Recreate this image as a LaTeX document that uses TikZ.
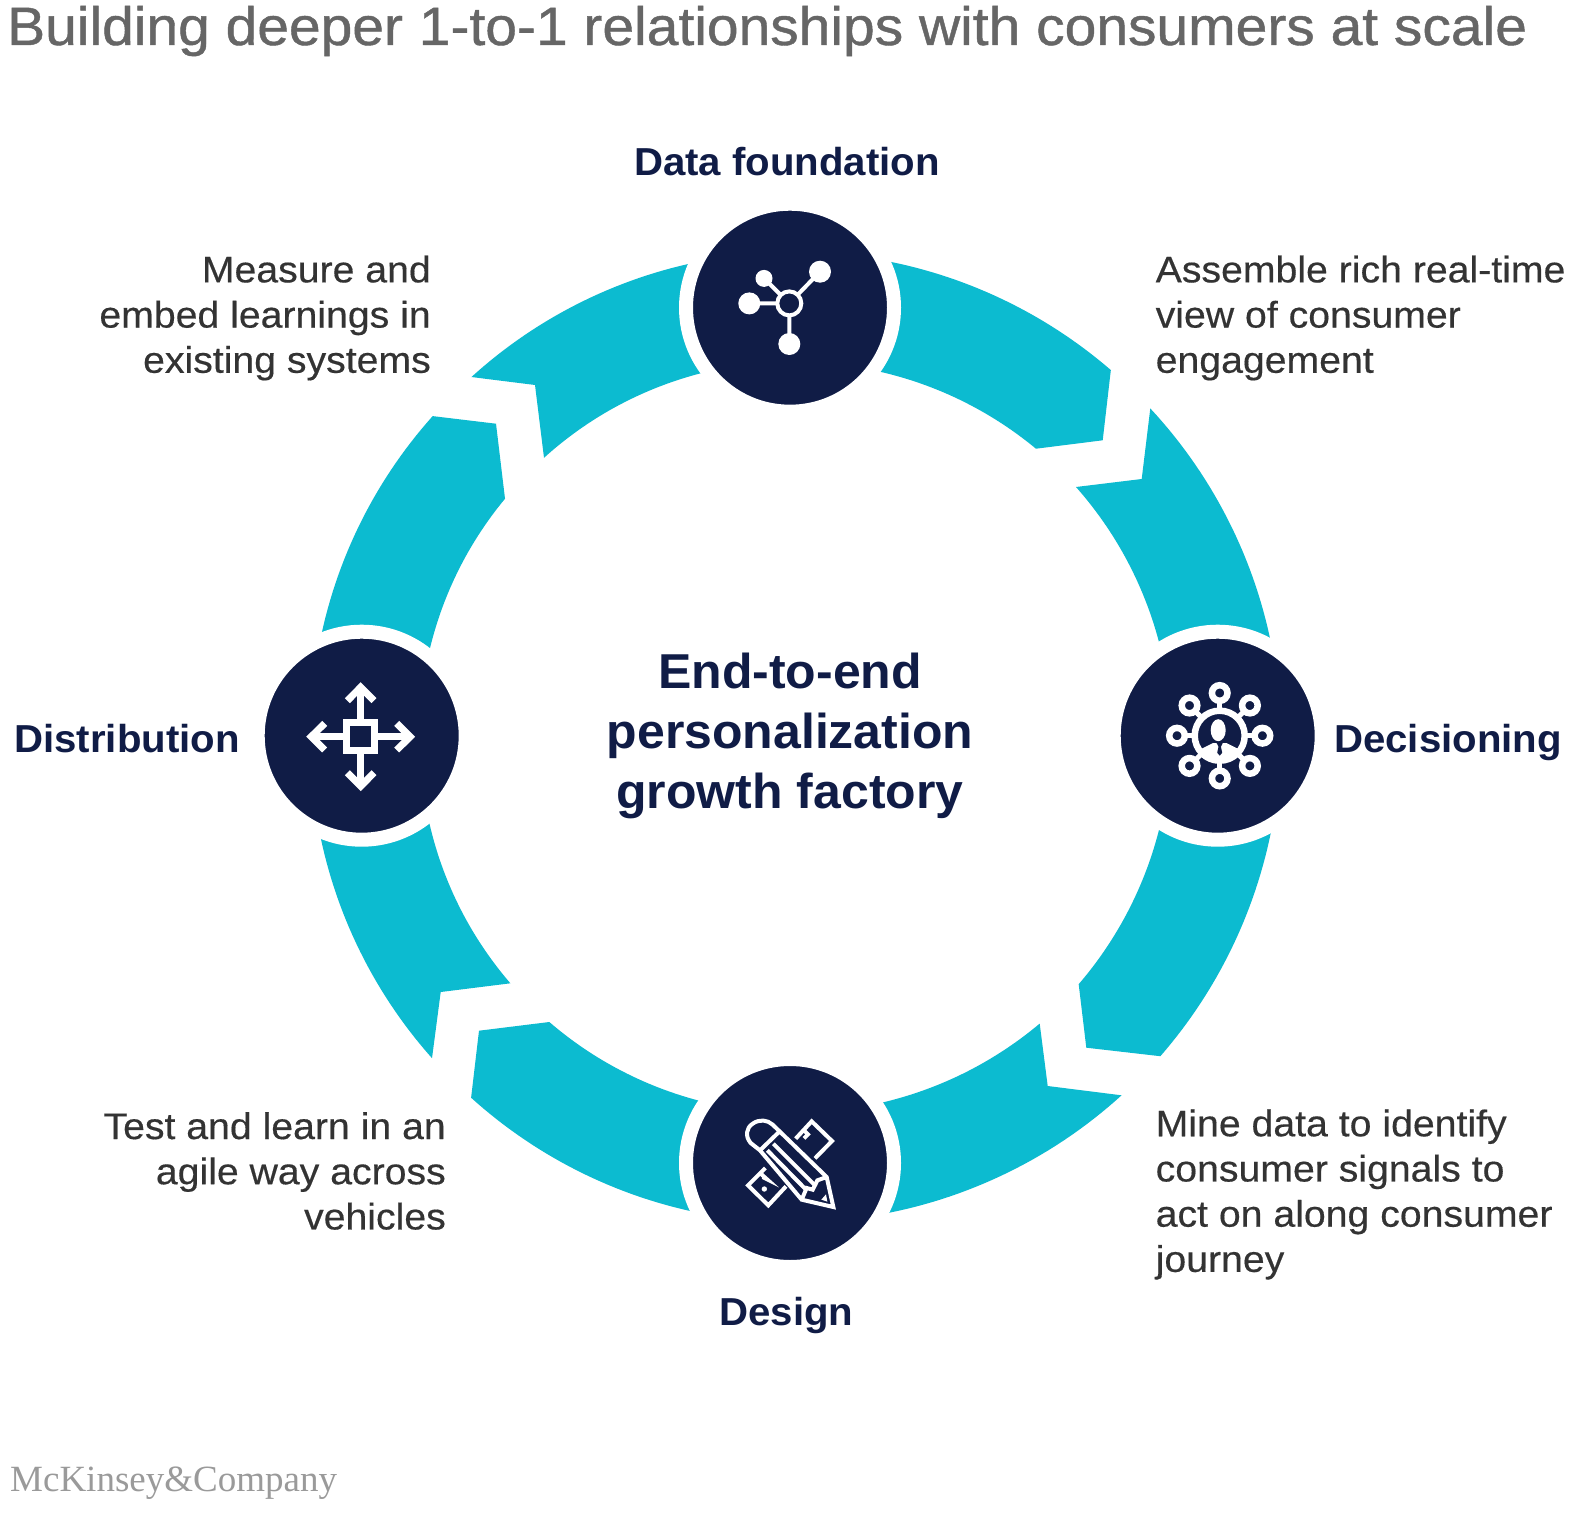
\documentclass[tikz,border=0pt]{standalone}
\usepackage{fontspec}
\setmainfont{Liberation Sans}
\newfontfamily\logofont{Liberation Serif}
\newfontfamily\bodyfont[FakeBold=0.4,FakeStretch=1.06]{Liberation Sans}
\newfontfamily\titlefont[FakeBold=0.8,FakeStretch=1.055]{Liberation Sans}
\newfontfamily\headfont[BoldFeatures={FakeStretch=1.03}]{Liberation Sans}
\newfontfamily\corefont[BoldFeatures={FakeStretch=1.02}]{Liberation Sans}
\usetikzlibrary{backgrounds}
\definecolor{teal}{HTML}{0CBBD0}
\definecolor{navy}{HTML}{101C46}
\definecolor{bodyink}{HTML}{333333}
\definecolor{titleink}{HTML}{666666}
\definecolor{logoink}{HTML}{9A9A9A}
\tikzset{
  hub/.style={circle,draw=white,fill=navy,line width=14pt,minimum size=208pt,inner sep=0pt,outer sep=0pt},
  ringpiece/.style={fill=teal,draw=none},
  stagelabel/.style={font=\headfont\fontsize{39}{44}\selectfont\bfseries,text=navy,inner sep=0pt},
  blurb/.style={font=\bodyfont\fontsize{37}{45.2}\selectfont,text=bodyink,inner sep=0pt},
  iconline/.style={draw=white,line width=4pt},
  icondot/.style={fill=white,draw=none},
  pencilline/.style={draw=white,line width=4pt,line join=miter},
  hubicon/.style={draw=white,line width=7pt,line join=miter,miter limit=10}
}
\def\setpolar#1#2#3,#4;{\pgfmathsetmacro#1{atan2((#4)-735.5,(#3)-790)}\pgfmathsetmacro#2{veclen((#3)-790,(#4)-735.5)}}
\newcommand{\ringseg}[6]{%
  \setpolar\aO\rO#2;\setpolar\bO\sO#3;\setpolar\aI\rI#5;\setpolar\bI\sI#6;%
  \fill[ringpiece] (#2) -- plot[variable=\t,domain=0:1,samples=30]
     ({790+(\rO+(\sO-\rO)*\t)*cos(\aO+(\bO-\aO)*\t)},{735.5+(\rO+(\sO-\rO)*\t)*sin(\aO+(\bO-\aO)*\t)})
     -- (#4) -- (#5) -- plot[variable=\t,domain=0:1,samples=30]
     ({790+(\rI+(\sI-\rI)*\t)*cos(\aI+(\bI-\aI)*\t)},{735.5+(\rI+(\sI-\rI)*\t)*sin(\aI+(\bI-\aI)*\t)})
     -- (#1.center) -- cycle;}
\begin{document}
\begin{tikzpicture}[x=1pt,y=-1pt]
\useasboundingbox (0,0) rectangle (1593,1525);
\node[hub] (hubT) at (790,307.7) {};
\node[hub] (hubR) at (1217.7,735.7) {};
\node[hub] (hubB) at (790,1163) {};
\node[hub] (hubL) at (361.7,735.7) {};
\begin{pgfonlayer}{background}
\fill[white] (0,0) rectangle (1593,1525);
\ringseg{hubT}{890,261.7}{1111,370}{1102.7,440.3}{1036,448.7}{880,371.7}
\ringseg{hubR}{1270,638}{1150.3,408.3}{1141.7,479}{1076,487}{1159,642}
\ringseg{hubR}{1271,832}{1160.3,1056.3}{1086.3,1047.7}{1078.7,984.3}{1159,830}
\ringseg{hubB}{888,1213}{1121.7,1095.3}{1047.7,1086}{1039.7,1023.7}{881.7,1102.7}
\ringseg{hubB}{690,1211}{471,1097.7}{479,1030.7}{549.3,1022}{699,1100.7}
\ringseg{hubL}{320.7,838}{432,1058.3}{440.7,992}{510.3,983.3}{429.3,823}
\ringseg{hubL}{321.7,633}{432.7,416}{496,423.7}{505,498.7}{430,648}
\ringseg{hubT}{688,264}{471.3,377}{535,385}{544,457.7}{701.7,373}
\end{pgfonlayer}

% data foundation icon
\begin{scope}[shift={(hubT.center)}]
  \draw[iconline] (-0.7,-4.3) -- (-26,-29.3) (-0.7,-4.3) -- (30,-36) (-0.7,-4.3) -- (-40.7,-4.3) (-0.7,-4.3) -- (-0.7,36.3);
  \fill[icondot] (-26,-29.3) circle[radius=8.5pt] (30,-36) circle[radius=11pt] (-40.7,-4.3) circle[radius=11pt] (-0.7,36.3) circle[radius=11pt];
  \draw[iconline,fill=navy] (-0.7,-4.3) circle[radius=12pt];
\end{scope}

% decisioning icon
\begin{scope}[shift={(hubR.center)},xshift=2pt]
  \foreach \a in {0,45,...,315}{
    \draw[white,line width=5pt] (\a:25pt) -- (\a:36pt);
    \draw[white,fill=navy,line width=6.5pt] (\a:42.7pt) circle[radius=7.8pt];
  }
  \draw[white,fill=navy,line width=6.5pt] (0,0) circle[radius=25pt];
  \begin{scope}
    \clip (0,0) circle[radius=23pt];
    \fill[white] (-24,16) -- (-7,7.5) -- (7,7.5) -- (24,16) -- (24,30) -- (-24,30) -- cycle;
    \fill[navy] (-3,7.5) -- (3,7.5) -- (1.2,11) -- (2.5,17) -- (0,20) -- (-2.5,17) -- (-1.2,11) -- cycle;
  \end{scope}
  \fill[white] (-1.5,-5.5) ellipse[x radius=7.5pt,y radius=11pt];
\end{scope}

% design icon
\begin{scope}[shift={(hubB.center)}]
  \def\zz(#1,#2){({((#1)-330)/3},{((#2)-310)/3})}
  % ruler
  \draw[pencilline] \zz(347,237) -- \zz(395,185) -- \zz(456,244) -- \zz(405,296);
  \draw[pencilline] \zz(372,212) -- \zz(384,224) -- \zz(372,236);
  \draw[pencilline] \zz(318,380) -- \zz(265,437) -- \zz(204,377) -- \zz(256,325);
  \draw[pencilline] \zz(240,340) -- \zz(260,358) -- \zz(248,352);
  \fill[icondot] \zz(253,388) circle[radius=2.7pt];
  % pencil
  \draw[pencilline,fill=navy] \zz(240,272) -- \zz(212,250) .. controls \zz(195,230) and \zz(198,205) .. \zz(218,192)
     .. controls \zz(238,178) and \zz(262,180) .. \zz(278,195) -- \zz(440,352) -- \zz(460,442) -- \zz(365,420) -- cycle;
  \draw[pencilline] \zz(240,272) -- \zz(300,214);
  \draw[pencilline] \zz(262,272) -- \zz(380,392);
  \draw[pencilline] \zz(280,252) -- \zz(408,380);
  \draw[pencilline] \zz(365,420) -- \zz(380,385) -- \zz(398,390) -- \zz(412,362) -- \zz(440,352);
  \fill[icondot] \zz(424,420) -- \zz(438,404) -- \zz(442,426) -- cycle;
\end{scope}

% distribution icon
\begin{scope}[shift={(hubL.center)},xshift=-1pt,yshift=-1pt]
  \foreach \r in {0,90,180,270}{
    \begin{scope}[rotate=\r]
      \draw[hubicon] (14,0) -- (50,0);
      \draw[hubicon] (36,-13.3) -- (49.5,0) -- (36,13.3);
    \end{scope}
  }
  \draw[white,line width=7pt,fill=navy] (-14,-14) rectangle (14,14);
\end{scope}

% texts
\node[anchor=base west,inner sep=0pt,font=\titlefont\fontsize{54}{60}\selectfont,text=titleink] (title) at (7,45) {Building deeper 1-to-1 relationships with consumers at scale};
\node[stagelabel,anchor=base] (lblT) at (787,176) {Data foundation};
\node[stagelabel,anchor=base west] (lblR) at (1334,752) {Decisioning};
\node[stagelabel,anchor=base] (lblB) at (786.5,1325) {Design};
\node[stagelabel,anchor=base east] (lblL) at (240,752) {Distribution};
\node[anchor=center,align=center,inner sep=0pt,font=\corefont\fontsize{49}{60}\selectfont\bfseries,text=navy] (core) at (790,736) {End-to-end\\personalization\\growth factory};
\node[blurb,anchor=west,align=left] (noteTR) at (1155.5,318) {Assemble rich real-time\\view of consumer\\engagement};
\node[blurb,anchor=east,align=right] (noteTL) at (431,318) {Measure and\\embed learnings in\\existing systems};
\node[blurb,anchor=west,align=left] (noteBR) at (1155.5,1194.5) {Mine data to identify\\consumer signals to\\act on along consumer\\journey};
\node[blurb,anchor=east,align=right] (noteBL) at (446,1171) {Test and learn in an\\agile way across\\vehicles};
\node[anchor=base west,inner sep=0pt,font=\logofont\fontsize{37}{44}\selectfont,text=logoink] (logo) at (10,1491) {McKinsey\&Company};
\end{tikzpicture}
\end{document}
